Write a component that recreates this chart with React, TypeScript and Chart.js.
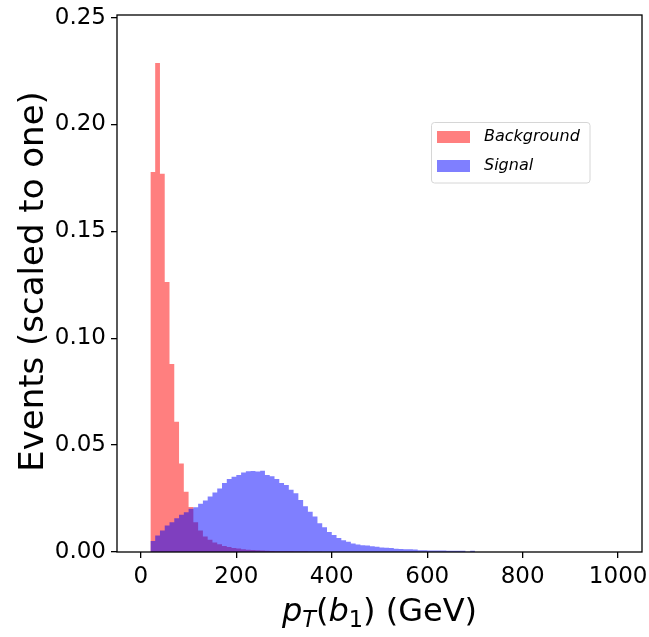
import React, { useEffect, useRef } from "react";
import { Chart, registerables } from "chart.js";

Chart.register(...registerables);

// ---- data -------------------------------------------------------------
const BIN_START = 20; // GeV, left edge of the first non-empty bin
const BIN_WIDTH = 10; // GeV

const SERIES_NAMES = ["Background", "Signal"];

const BACKGROUND = [
  0.1777, 0.2288, 0.1769, 0.1263, 0.0879, 0.0609, 0.0414, 0.0282, 0.021, 0.0139,
  0.01, 0.0073, 0.0057, 0.0045, 0.0036, 0.0028, 0.0023, 0.0019, 0.0016, 0.0013,
  0.0011, 0.0009, 0.0008, 0.0007, 0.0006, 0.0005, 0.0004, 0.0004, 0.0003, 0.0003,
  0.0002, 0.0002, 0.0002, 0.0001, 0.0001, 0.0001,
];

const SIGNAL = [
  0.0052, 0.0077, 0.01, 0.0124, 0.0139, 0.0158, 0.0174, 0.0186, 0.0202, 0.0209,
  0.0226, 0.0241, 0.026, 0.0278, 0.0297, 0.0323, 0.0342, 0.0352, 0.036, 0.0372,
  0.0378, 0.0379, 0.0376, 0.038, 0.036, 0.0354, 0.0342, 0.0323, 0.0313, 0.0291,
  0.0275, 0.0243, 0.0214, 0.0188, 0.0166, 0.0134, 0.0116, 0.0094, 0.008, 0.0066,
  0.0055, 0.0048, 0.004, 0.0035, 0.0032, 0.003, 0.0027, 0.0025, 0.0021, 0.002,
  0.0019, 0.0015, 0.0014, 0.0013, 0.0013, 0.0012, 0.0008, 0.0008, 0.0007, 0.0007,
  0.0007, 0.0007, 0.0006, 0.0006, 0.0006, 0.0006, 0.0001, 0.0006,
];

const X_TICKS = [0, 200, 400, 600, 800, 1000];
const Y_TICKS = [0, 0.05, 0.1, 0.15, 0.2, 0.25];
const X_RANGE = [-50, 1050];
const Y_RANGE = [0, 0.2512];

const Y_LABEL = "Events (scaled to one)";
// x label: $p_T(b_1)$ (GeV)
const X_LABEL_PARTS = [
  { text: "p", italic: true, sub: false },
  { text: "T", italic: true, sub: true },
  { text: "(", italic: false, sub: false },
  { text: "b", italic: true, sub: false },
  { text: "1", italic: false, sub: true },
  { text: ")", italic: false, sub: false },
  { text: " (GeV)", italic: false, sub: false },
];

const COLORS = ["rgba(255,0,0,0.5)", "rgba(0,0,255,0.5)"];

// ---- helpers ----------------------------------------------------------
function toSteps(values: number[]) {
  const pts = values.map((v, i) => ({ x: BIN_START + i * BIN_WIDTH, y: v }));
  pts.push({
    x: BIN_START + values.length * BIN_WIDTH,
    y: values[values.length - 1],
  });
  return pts;
}

const FONT = '"DejaVu Sans", "Noto Sans", sans-serif';

const decorPlugin = {
  id: "decor",
  afterDraw(chart: any) {
    const { ctx, chartArea: a } = chart;
    ctx.save();

    // frame
    ctx.strokeStyle = "#000";
    ctx.lineWidth = 1.3;
    ctx.strokeRect(a.left, a.top, a.right - a.left, a.bottom - a.top);

    // legend
    const lx = 431.5, ly = 122.5, lw = 158.5, lh = 60.5, r = 3;
    ctx.beginPath();
    ctx.moveTo(lx + r, ly);
    ctx.lineTo(lx + lw - r, ly);
    ctx.arcTo(lx + lw, ly, lx + lw, ly + r, r);
    ctx.lineTo(lx + lw, ly + lh - r);
    ctx.arcTo(lx + lw, ly + lh, lx + lw - r, ly + lh, r);
    ctx.lineTo(lx + r, ly + lh);
    ctx.arcTo(lx, ly + lh, lx, ly + lh - r, r);
    ctx.lineTo(lx, ly + r);
    ctx.arcTo(lx, ly, lx + r, ly, r);
    ctx.closePath();
    ctx.fillStyle = "rgba(255,255,255,0.8)";
    ctx.fill();
    ctx.strokeStyle = "#d6d6d6";
    ctx.lineWidth = 1;
    ctx.stroke();

    ctx.font = `italic 16px ${FONT}`;
    ctx.textAlign = "left";
    ctx.textBaseline = "middle";
    chart.data.datasets.forEach((ds: any, i: number) => {
      const cy = 137 + i * 29;
      ctx.fillStyle = ds.backgroundColor;
      ctx.fillRect(437, cy - 6, 33, 12);
      ctx.fillStyle = "#000";
      ctx.fillText(ds.label, 484, cy);
    });

    // y label
    ctx.save();
    ctx.translate(42.5, 281.5);
    ctx.rotate(-Math.PI / 2);
    ctx.font = `34px ${FONT}`;
    ctx.textAlign = "center";
    ctx.textBaseline = "alphabetic";
    ctx.fillStyle = "#000";
    ctx.fillText(Y_LABEL, 0, 0);
    ctx.restore();

    // x label (math-like)
    const big = 32, small = 22.4;
    const fontFor = (p: any) =>
      `${p.italic ? "italic " : ""}${p.sub ? small : big}px ${FONT}`;
    let total = 0;
    const widths = X_LABEL_PARTS.map((p) => {
      ctx.font = fontFor(p);
      const w = ctx.measureText(p.text).width;
      total += w;
      return w;
    });
    let x = (a.left + a.right) / 2 - total / 2;
    const base = 621;
    ctx.textAlign = "left";
    ctx.textBaseline = "alphabetic";
    ctx.fillStyle = "#000";
    X_LABEL_PARTS.forEach((p, i) => {
      ctx.font = fontFor(p);
      ctx.fillText(p.text, x, base + (p.sub ? 6 : 0));
      x += widths[i];
    });

    ctx.restore();
  },
};

export default function App() {
  const ref = useRef<HTMLCanvasElement | null>(null);

  useEffect(() => {
    if (!ref.current) return;
    const tickFont = { family: FONT, size: 23 };
    const chart = new Chart(ref.current, {
      type: "line",
      data: {
        datasets: [
          {
            label: SERIES_NAMES[0],
            data: toSteps(BACKGROUND),
            stepped: "before",
            fill: "origin",
            backgroundColor: COLORS[0],
            borderColor: "rgba(0,0,0,0)",
            borderWidth: 0,
            pointRadius: 0,
            order: 2,
          },
          {
            label: SERIES_NAMES[1],
            data: toSteps(SIGNAL),
            stepped: "before",
            fill: "origin",
            backgroundColor: COLORS[1],
            borderColor: "rgba(0,0,0,0)",
            borderWidth: 0,
            pointRadius: 0,
            order: 1,
          },
        ],
      } as any,
      options: {
        animation: false,
        responsive: false,
        devicePixelRatio: 1,
        events: [],
        layout: { padding: { top: 15, right: 7, left: 0, bottom: 0 } },
        plugins: {
          legend: { display: false },
          tooltip: { enabled: false },
        },
        scales: {
          x: {
            type: "linear",
            min: X_RANGE[0],
            max: X_RANGE[1],
            afterBuildTicks: (s: any) => {
              s.ticks = X_TICKS.map((v) => ({ value: v }));
            },
            afterFit: (s: any) => {
              s.height = 85;
              s.paddingLeft = 0;
              s.paddingRight = 0;
            },
            grid: {
              display: true,
              drawOnChartArea: false,
              drawTicks: true,
              tickLength: 6,
              color: "#000",
              tickColor: "#000",
              lineWidth: 1.3,
            },
            border: { display: false },
            ticks: {
              font: tickFont,
              color: "#000",
              padding: 5,
              maxRotation: 0,
              autoSkip: false,
              callback: (v: any) => String(v),
            },
          },
          y: {
            type: "linear",
            min: Y_RANGE[0],
            max: Y_RANGE[1],
            afterBuildTicks: (s: any) => {
              s.ticks = Y_TICKS.map((v) => ({ value: v }));
            },
            afterFit: (s: any) => {
              s.width = 117;
              s.paddingTop = 0;
              s.paddingBottom = 0;
            },
            grid: {
              display: true,
              drawOnChartArea: false,
              drawTicks: true,
              tickLength: 6,
              color: "#000",
              tickColor: "#000",
              lineWidth: 1.3,
            },
            border: { display: false },
            ticks: {
              font: tickFont,
              color: "#000",
              padding: 5,
              autoSkip: false,
              callback: (v: any) => Number(v).toFixed(2),
            },
          },
        },
      } as any,
      plugins: [decorPlugin],
    });
    return () => chart.destroy();
  }, []);

  return (
    <div style={{ position: "absolute", left: 0, top: 0, width: 649, height: 637, background: "#fff" }}>
      <canvas ref={ref} width={649} height={637} />
    </div>
  );
}
